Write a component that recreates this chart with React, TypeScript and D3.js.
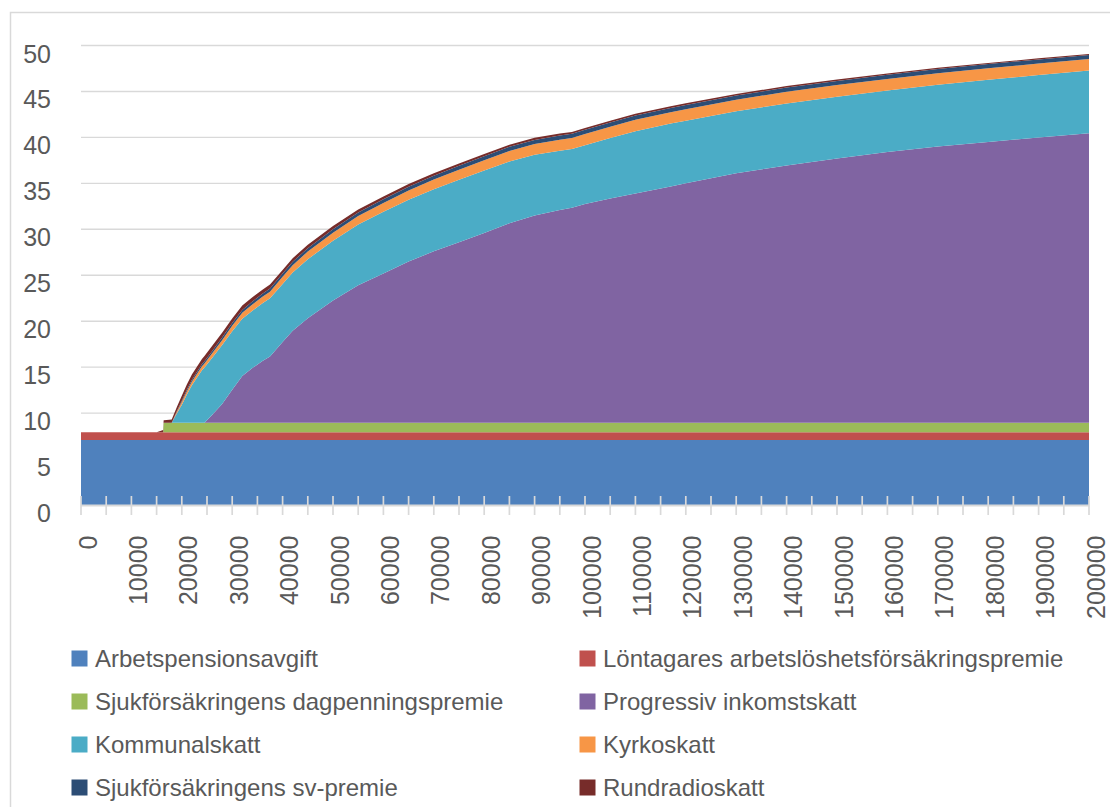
import React from 'react';
import * as d3 from 'd3';

// Income levels (x values)
const incomes = [0, 15000, 16300, 16400, 17000, 18000, 19000, 20000, 21000, 22000, 24000, 24500, 26000, 28000, 30000, 32000, 34000, 36000, 37500, 40000, 42000, 45000, 50000, 55000, 60000, 65000, 70000, 75000, 80000, 85000, 90000, 95000, 97400, 100000, 105000, 110000, 117000, 120000, 130000, 140000, 150000, 160000, 170000, 180000, 190000, 200000];

// Series values (percent of income), stacked bottom to top
const arbetspensionsavgift = [7.07, 7.07, 7.07, 7.07, 7.07, 7.07, 7.07, 7.07, 7.07, 7.07, 7.07, 7.07, 7.07, 7.07, 7.07, 7.07, 7.07, 7.07, 7.07, 7.07, 7.07, 7.07, 7.07, 7.07, 7.07, 7.07, 7.07, 7.07, 7.07, 7.07, 7.07, 7.07, 7.07, 7.07, 7.07, 7.07, 7.07, 7.07, 7.07, 7.07, 7.07, 7.07, 7.07, 7.07, 7.07, 7.07];
const lontagaresArbetsloshet = [0.84, 0.84, 0.84, 0.84, 0.84, 0.84, 0.84, 0.84, 0.84, 0.84, 0.84, 0.84, 0.84, 0.84, 0.84, 0.84, 0.84, 0.84, 0.84, 0.84, 0.84, 0.84, 0.84, 0.84, 0.84, 0.84, 0.84, 0.84, 0.84, 0.84, 0.84, 0.84, 0.84, 0.84, 0.84, 0.84, 0.84, 0.84, 0.84, 0.84, 0.84, 0.84, 0.84, 0.84, 0.84, 0.84];
const sjukDagpenning = [0, 0, 0, 1.04, 1.04, 1.04, 1.04, 1.04, 1.04, 1.04, 1.04, 1.04, 1.04, 1.04, 1.04, 1.04, 1.04, 1.04, 1.04, 1.04, 1.04, 1.04, 1.04, 1.04, 1.04, 1.04, 1.04, 1.04, 1.04, 1.04, 1.04, 1.04, 1.04, 1.04, 1.04, 1.04, 1.04, 1.04, 1.04, 1.04, 1.04, 1.04, 1.04, 1.04, 1.04, 1.04];
const progressivSkatt = [0, 0, 0, 0, 0, 0, 0, 0, 0, 0, 0, 0, 0.85, 2.05, 3.6, 5.08, 5.95, 6.72, 7.22, 8.8, 10.0, 11.38, 13.3, 14.95, 16.25, 17.55, 18.65, 19.65, 20.65, 21.7, 22.55, 23.15, 23.4, 23.8, 24.4, 24.95, 25.7, 26.05, 27.15, 28.0, 28.75, 29.45, 30.05, 30.55, 31.05, 31.5];
const kommunalskatt = [0, 0, 0, 0, 0, 0, 1.02, 1.95, 3.08, 4.07, 5.71, 6.0, 6.2, 6.4, 6.35, 6.25, 6.25, 6.28, 6.32, 6.3, 6.35, 6.42, 6.5, 6.62, 6.7, 6.72, 6.77, 6.8, 6.8, 6.73, 6.6, 6.45, 6.38, 6.4, 6.58, 6.78, 6.85, 6.82, 6.75, 6.75, 6.73, 6.7, 6.72, 6.76, 6.79, 6.82];
const kyrkoskatt = [0, 0, 0, 0, 0, 0, 0.15, 0.3, 0.33, 0.38, 0.43, 0.44, 0.48, 0.54, 0.6, 0.64, 0.67, 0.7, 0.72, 0.78, 0.8, 0.83, 0.88, 0.93, 0.97, 1.01, 1.05, 1.09, 1.12, 1.15, 1.18, 1.2, 1.21, 1.22, 1.23, 1.24, 1.25, 1.25, 1.25, 1.26, 1.26, 1.26, 1.26, 1.26, 1.25, 1.25];
const sjukSvPremie = [0, 0, 0, 0, 0, 0, 0.08, 0.15, 0.17, 0.2, 0.24, 0.25, 0.26, 0.28, 0.3, 0.31, 0.32, 0.33, 0.34, 0.35, 0.36, 0.37, 0.38, 0.39, 0.4, 0.41, 0.42, 0.43, 0.43, 0.44, 0.45, 0.46, 0.46, 0.46, 0.46, 0.46, 0.46, 0.46, 0.46, 0.46, 0.46, 0.46, 0.46, 0.46, 0.45, 0.45];
const rundradioskatt = [0, 0, 0.25, 0.27, 0.3, 0.35, 0.45, 0.55, 0.57, 0.6, 0.57, 0.56, 0.56, 0.53, 0.5, 0.48, 0.46, 0.45, 0.43, 0.4, 0.39, 0.37, 0.34, 0.32, 0.3, 0.28, 0.26, 0.25, 0.24, 0.23, 0.22, 0.21, 0.2, 0.2, 0.19, 0.19, 0.18, 0.18, 0.17, 0.16, 0.15, 0.14, 0.13, 0.12, 0.11, 0.1];

const seriesNames = [
  'Arbetspensionsavgift',
  'Löntagares arbetslöshetsförsäkringspremie',
  'Sjukförsäkringens dagpenningspremie',
  'Progressiv inkomstskatt',
  'Kommunalskatt',
  'Kyrkoskatt',
  'Sjukförsäkringens sv-premie',
  'Rundradioskatt',
];
const seriesValues = [arbetspensionsavgift, lontagaresArbetsloshet, sjukDagpenning, progressivSkatt, kommunalskatt, kyrkoskatt, sjukSvPremie, rundradioskatt];
const seriesColors = ['#4F81BD', '#C0504D', '#9BBB59', '#8064A2', '#4BACC6', '#F79646', '#2C4D75', '#772C2A'];

const yTickValues = [0, 5, 10, 15, 20, 25, 30, 35, 40, 45, 50];
const xLabelValues = [0, 10000, 20000, 30000, 40000, 50000, 60000, 70000, 80000, 90000, 100000, 110000, 120000, 130000, 140000, 150000, 160000, 170000, 180000, 190000, 200000];
const xTickStep = 5000;

const FONT = '"Liberation Sans", Arial, Helvetica, sans-serif';
const TEXT = '#595959';
const GRID = '#D9D9D9';

export default function App() {
  const x = d3.scaleLinear().domain([0, 200000]).range([81, 1089]);
  const y = d3.scaleLinear().domain([0, 50]).range([505, 45.5]);

  const keys = seriesNames.map((_, i) => 's' + i);
  const table = incomes.map((inc, j) => {
    const row: any = { income: inc };
    seriesValues.forEach((arr, i) => { row['s' + i] = arr[j]; });
    return row;
  });
  const stacked = d3.stack().keys(keys)(table);
  const area = d3.area<any>()
    .x((d: any) => x(d.data.income))
    .y0((d: any) => y(d[0]))
    .y1((d: any) => y(d[1]));

  const minorTicks = d3.range(0, 200000 + 1, xTickStep);

  const legendRowsY = [658.5, 701.5, 744.5, 787.5];

  return (
    <svg width={1110} height={807} style={{ position: 'absolute', left: 0, top: 0, background: '#fff' }} fontFamily={FONT}>
      <rect x={0} y={0} width={1110} height={807} fill="#fff" />
      <rect x={10.5} y={12.5} width={1110} height={820} fill="none" stroke={GRID} strokeWidth={1.5} />
      {yTickValues.filter(v => v > 0).map(v => (
        <line key={'g' + v} x1={x(0)} x2={x(200000)} y1={y(v)} y2={y(v)} stroke={GRID} strokeWidth={1.4} />
      ))}
      {stacked.map((s, i) => (
        <path key={'a' + i} d={area(s as any) || ''} fill={seriesColors[i]} />
      ))}
      <line x1={x(0)} x2={x(200000)} y1={505.5} y2={505.5} stroke={GRID} strokeWidth={1.8} />
      {minorTicks.map(v => (
        <line key={'t' + v} x1={x(v)} x2={x(v)} y1={496} y2={515} stroke={GRID} strokeWidth={1.7} />
      ))}
      {yTickValues.map(v => (
        <text key={'yl' + v} x={51} y={y(v) + 17} textAnchor="end" fontSize={25} fill={TEXT}>{v}</text>
      ))}
      {xLabelValues.map(v => (
        <text key={'xl' + v} transform={`translate(${x(v) + 15.5},535.5) rotate(-90)`} textAnchor="end" fontSize={25} fill={TEXT}>{v}</text>
      ))}
      {seriesNames.map((name, i) => {
        const col = i % 2;
        const row = Math.floor(i / 2);
        const sx = col === 0 ? 71.5 : 579.5;
        const cy = legendRowsY[row];
        return (
          <g key={'lg' + i}>
            <rect x={sx} y={cy - 8} width={16} height={16} fill={seriesColors[i]} />
            <text x={sx + 23.5} y={cy + 8.6} fontSize={24} fill={TEXT}>{name}</text>
          </g>
        );
      })}
    </svg>
  );
}
